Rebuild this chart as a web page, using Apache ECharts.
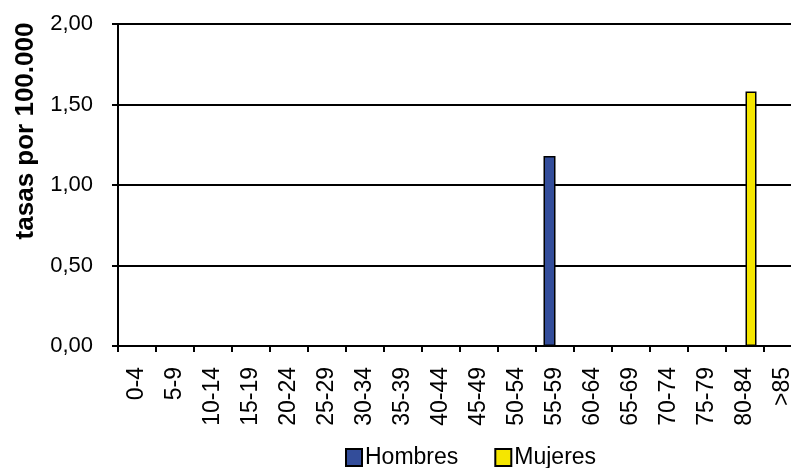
<!DOCTYPE html>
<html><head><meta charset="utf-8">
<script src="https://cdn.jsdelivr.net/npm/echarts@6/dist/echarts.min.js"></script>
<style>html,body{margin:0;padding:0;background:#fff;overflow:hidden;width:791px;height:468px}#c{width:802px;height:468px}</style>
</head><body><div id="c"></div>
<script>
const categories = ['0-4','5-9','10-14','15-19','20-24','25-29','30-34','35-39','40-44','45-49','50-54','55-59','60-64','65-69','70-74','75-79','80-84','>85'];
const hombres = [0,0,0,0,0,0,0,0,0,0,0,1.18,0,0,0,0,0,0];
const mujeres = [0,0,0,0,0,0,0,0,0,0,0,0,0,0,0,0,1.58,0];
const yTicks = [0, 0.5, 1, 1.5, 2];

const font = 'Liberation Sans, Arial, sans-serif';
const chart = echarts.init(document.getElementById('c'), null, {renderer:'canvas'});
const nz = a => a.map(v => v === 0 ? null : v);
chart.setOption({
  animation:false,
  backgroundColor:'#fff',
  grid:{left:118, top:24, right:0, bottom:122, containLabel:false},
  legend:{
    left:345, top:446, padding:0, icon:'rect', itemWidth:16, itemHeight:17, itemGap:36,
    itemStyle:{borderColor:'#000', borderWidth:2},
    textStyle:{fontFamily:font, fontSize:23, color:'#000', padding:[0,0,0,-2]},
    data:['Hombres','Mujeres']
  },
  xAxis:{
    type:'category', data:categories,
    axisLine:{lineStyle:{color:'#000', width:2}},
    axisTick:{show:true, length:6, lineStyle:{color:'#000', width:2}},
    axisLabel:{interval:0, rotate:90, margin:21, fontFamily:font, fontSize:23, color:'#000'}
  },
  yAxis:{
    type:'value', min:yTicks[0], max:yTicks[yTicks.length-1], interval:0.5,
    name:'tasas por 100.000', nameLocation:'middle', nameGap:78, nameRotate:90,
    nameTextStyle:{fontFamily:font, fontSize:26, fontWeight:'bold', color:'#000', padding:[0,0,0,108]},
    axisLine:{show:true, lineStyle:{color:'#000', width:2}},
    axisTick:{show:true, length:6, lineStyle:{color:'#000', width:2}},
    splitLine:{show:true, lineStyle:{color:'#000', width:2}},
    axisLabel:{margin:25, fontFamily:font, fontSize:22, color:'#000',
      formatter: v => v.toFixed(2).replace('.', ',')}
  },
  series:[
    {name:'Hombres', type:'bar', data:nz(hombres), barWidth:12, barGap:'0%',
     itemStyle:{color:'#334D9A', borderColor:'#000', borderWidth:1.5}},
    {name:'Mujeres', type:'bar', data:nz(mujeres), barWidth:11, barGap:'0%',
     itemStyle:{color:'#F5E600', borderColor:'#000', borderWidth:1.5}}
  ]
});
</script></body></html>
